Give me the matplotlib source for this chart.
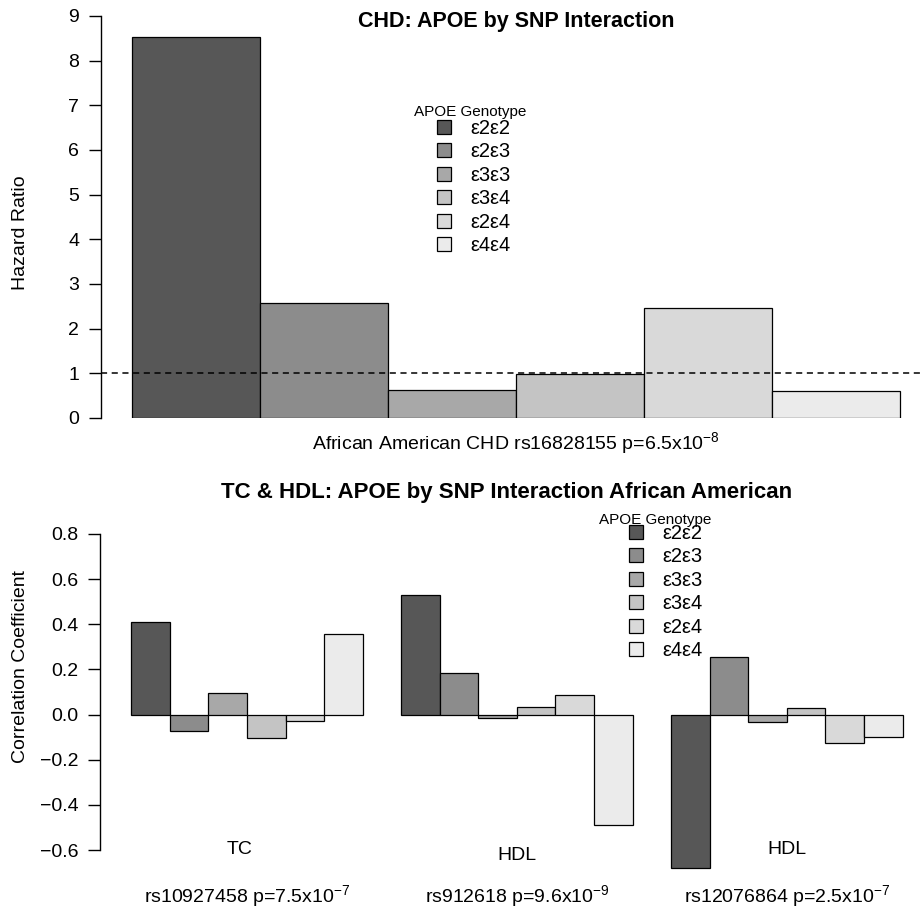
import matplotlib
matplotlib.use("Agg")
import matplotlib.pyplot as plt
import numpy as np

plt.rcParams['font.family'] = ['Liberation Sans', 'DejaVu Sans']
plt.rcParams['mathtext.fontset'] = 'custom'
plt.rcParams['mathtext.rm'] = 'Liberation Sans'
plt.rcParams['mathtext.it'] = 'Liberation Sans'

genotypes = ['ε2ε2', 'ε2ε3', 'ε3ε3', 'ε3ε4', 'ε2ε4', 'ε4ε4']
colors = ['#575757', '#8c8c8c', '#a8a8a8', '#c4c4c4', '#d9d9d9', '#ebebeb']

# top panel: hazard ratios
chd_hr = [8.52, 2.58, 0.62, 0.98, 2.46, 0.60]
chd_label = r'African American CHD rs16828155 p=6.5x10$^{-8}$'

# bottom panel: correlation coefficients per SNP
tc_rs10927458 = [0.41, -0.072, 0.097, -0.102, -0.028, 0.355]
hdl_rs912618 = [0.53, 0.184, -0.015, 0.034, 0.085, -0.49]
hdl_rs12076864 = [-0.68, 0.255, -0.032, 0.027, -0.128, -0.10]
traits = ['TC', 'HDL', 'HDL']
snp_labels = [r'rs10927458 p=7.5x10$^{-7}$',
              r'rs912618 p=9.6x10$^{-9}$',
              r'rs12076864 p=2.5x10$^{-7}$']

W, H = 924, 908
fig = plt.figure(figsize=(W / 100, H / 100), dpi=100)


def minus(v, fmt):
    return (fmt % v).replace('-', '\u2212')


def style_axis(ax, lo, hi, ticks, fmt):
    for s in ['top', 'right', 'bottom']:
        ax.spines[s].set_visible(False)
    ax.spines['left'].set_bounds(lo, hi)
    ax.spines['left'].set_linewidth(1.0)
    ax.set_xticks([])
    ax.set_yticks(ticks)
    ax.set_yticklabels([minus(t, fmt) for t in ticks])
    ax.tick_params(axis='y', direction='out', length=8.6, width=1.0,
                   pad=7, labelsize=14)


legend_kw = dict(loc='upper left', frameon=False, fontsize=14.5, borderpad=0,
                 borderaxespad=0, handlelength=0.7, handleheight=0.7,
                 handletextpad=0.95, labelspacing=0.22)

# ---------------- top panel ----------------
ax1 = fig.add_axes([101 / W, 1 - 418 / H, 830 / W, 402 / H])
x1 = np.arange(len(chd_hr)) + 0.5
bars1 = ax1.bar(x1, chd_hr, width=1.0, color=colors, edgecolor='black',
                linewidth=0.9)
ax1.axhline(1, color='black', linestyle=(0, (4, 3)), linewidth=1.1)
ax1.set_xlim(-0.24, 6.24)
ax1.set_ylim(0, 9)
style_axis(ax1, 0, 9, list(range(0, 10)), '%d')
ax1.set_ylabel('Hazard Ratio', fontsize=14)
ax1.yaxis.set_label_coords(-0.087, 0.46)
ax1.text(3, -0.56, chd_label, ha='center', va='center', fontsize=14,
         clip_on=False)
fig.text(516 / W, 1 - 22 / H, 'CHD: APOE by SNP Interaction',
         ha='center', va='center', fontsize=15.5, fontweight='bold')
fig.text(470 / W, 1 - 112 / H, 'APOE Genotype', ha='center', va='center',
         fontsize=11)
ax1.legend(bars1.patches, genotypes,
           bbox_to_anchor=(437 / W, 1 - 119 / H), bbox_transform=fig.transFigure,
           **legend_kw)

# ---------------- bottom panel ----------------
ax2 = fig.add_axes([100.4 / W, 1 - 883.9 / H, 833 / W, 361.2 / H])
groups = [tc_rs10927458, hdl_rs912618, hdl_rs12076864]
for g, vals in enumerate(groups):
    xs = 1.5 + 7 * g + np.arange(len(vals))
    b = ax2.bar(xs, vals, width=1.0, color=colors, edgecolor='black',
                linewidth=0.9)
    if g == 0:
        bars2 = b
    center = 4 + 7 * g
    tx = center - 0.2 if g == 0 else center
    ty = -0.624 if g == 1 else -0.597
    ax2.text(tx, ty, traits[g], ha='center', va='center', fontsize=14)
    ax2.text(center, -0.805, snp_labels[g], ha='center', va='center',
             fontsize=14, clip_on=False)
ax2.set_xlim(0.2, 21.8)
ax2.set_ylim(-0.75, 0.85)
style_axis(ax2, -0.6, 0.8, [-0.6, -0.4, -0.2, 0.0, 0.2, 0.4, 0.6, 0.8], '%.1f')
ax2.set_ylabel('Correlation Coefficient', fontsize=14)
ax2.yaxis.set_label_coords(-0.0857, 0.603)
fig.text(507 / W, 1 - 493 / H,
         'TC & HDL: APOE by SNP Interaction African American',
         ha='center', va='center', fontsize=16, fontweight='bold')
fig.text(655 / W, 1 - 520 / H, 'APOE Genotype', ha='center', va='center',
         fontsize=11)
ax2.legend(bars2.patches, genotypes,
           bbox_to_anchor=(629 / W, 1 - 524 / H), bbox_transform=fig.transFigure,
           **legend_kw)

fig.savefig('out.png', dpi=100)
